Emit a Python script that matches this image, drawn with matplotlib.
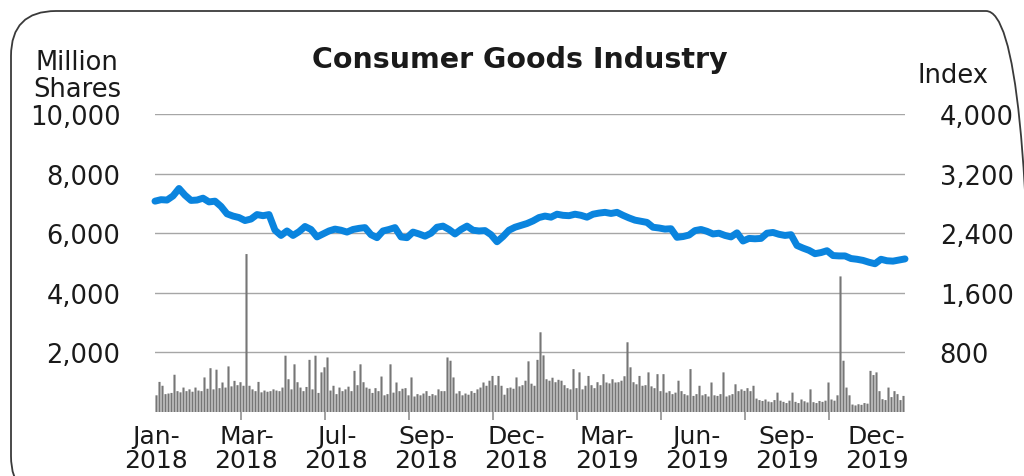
"""
Consumer Goods Industry: daily volume (bars) and index (line)
"""
import numpy as np
import matplotlib
matplotlib.use('Agg')
import matplotlib.pyplot as plt
from matplotlib.patches import FancyBboxPatch
from matplotlib.transforms import IdentityTransform

# 成交量（百万股），按交易日顺序
volume = [
    560, 1010, 880, 600, 620, 640, 1250, 700, 660, 820,
    700, 760, 680, 820, 720, 700, 1160, 780, 1470, 760,
    1420, 800, 990, 820, 1530, 860, 1045, 900, 1000, 880,
    5300, 880, 760, 700, 1010, 660, 720, 680, 700, 760,
    720, 700, 820, 1890, 1100, 760, 1600, 1000, 820, 700,
    840, 1750, 760, 1890, 640, 1330, 1500, 1830, 720, 880,
    600, 820, 700, 760, 850, 700, 1380, 900, 1600, 1000,
    820, 780, 640, 800, 700, 1190, 560, 600, 1600, 650,
    990, 700, 780, 800, 560, 1160, 520, 600, 560, 620,
    700, 540, 600, 560, 760, 700, 700, 1830, 1720, 1160,
    620, 700, 560, 620, 580, 700, 640, 760, 820, 990,
    880, 1050, 1210, 900, 1210, 880, 580, 800, 820, 780,
    1160, 860, 900, 1050, 1700, 950, 880, 1750, 2675, 1900,
    1100, 1050, 1150, 1000, 1080, 1050, 900, 800, 760, 1440,
    800, 1330, 760, 880, 1210, 900, 800, 1000, 900, 1270,
    990, 960, 1100, 990, 1000, 1050, 1200, 2340, 1500, 1000,
    930, 1210, 880, 900, 1330, 860, 800, 1270, 700, 1270,
    650, 700, 600, 650, 1050, 700, 600, 560, 1440, 540,
    600, 880, 560, 600, 520, 990, 560, 540, 600, 1330,
    520, 560, 600, 930, 700, 760, 710, 800, 700, 880,
    450, 400, 370, 420, 350, 330, 400, 650, 380, 340,
    300, 380, 650, 340, 300, 420, 360, 320, 760, 330,
    300, 370, 340, 380, 990, 420, 380, 560, 4550, 1720,
    820, 560, 250, 220, 260, 240, 300, 280, 1380, 1240,
    1330, 700, 430, 400, 820, 500, 700, 600, 400, 540,
]

# 行业指数
index = [
    2830, 2850, 2845, 2900, 3000, 2910, 2840, 2845, 2870, 2820,
    2830, 2760, 2660, 2630, 2610, 2570, 2590, 2650, 2635, 2650,
    2440, 2370, 2430, 2370, 2420, 2490, 2450, 2350, 2390, 2430,
    2455, 2440, 2415, 2450, 2465, 2475, 2380, 2340, 2430, 2450,
    2475, 2350, 2340, 2415, 2390, 2360, 2400, 2480, 2495, 2450,
    2390, 2450, 2495, 2440, 2430, 2435, 2380, 2285, 2355, 2440,
    2480, 2505, 2530, 2565, 2610, 2630, 2615, 2655, 2640, 2635,
    2655, 2640, 2615, 2655, 2670, 2680, 2665, 2680, 2640, 2605,
    2575, 2560, 2545, 2480, 2470, 2455, 2460, 2345, 2355, 2375,
    2435, 2450, 2425, 2390, 2400, 2370, 2350, 2405, 2295, 2330,
    2325, 2330, 2400, 2410, 2385, 2370, 2380, 2235, 2200, 2170,
    2125, 2140, 2165, 2100, 2095, 2095, 2060, 2050, 2035, 2010,
    1990, 2050, 2030, 2025, 2040, 2055,
]

x_labels = ['Jan-\n2018', 'Mar-\n2018', 'Jul-\n2018', 'Sep-\n2018', 'Dec-\n2018',
            'Mar-\n2019', 'Jun-\n2019', 'Sep-\n2019', 'Dec-\n2019']
left_ticks = [2000, 4000, 6000, 8000, 10000]
right_ticks = [800, 1600, 2400, 3200, 4000]

plt.rcParams['font.family'] = ['DejaVu Sans']
text_color = '#1a1a1a'
grid_color = '#a6a6a6'

fig = plt.figure(figsize=(10.24, 4.77), dpi=100)
ax = fig.add_axes([155 / 1024, 1 - 413 / 477, 750 / 1024, 298 / 477])

# 成交量柱（关闭像素对齐，细柱之间保留浅色缝隙）
n = len(volume)
ax.bar(np.arange(n), volume, width=0.7, color='#767676', linewidth=0, zorder=2, snap=False)
ax.set_xlim(-0.5, n - 0.5)
ax.set_ylim(0, 10000)
ax.set_yticks(left_ticks)
ax.set_yticklabels([f'{v:,}' for v in left_ticks])
ax.yaxis.grid(True, color=grid_color, linewidth=1.0, zorder=0)
ax.set_axisbelow(True)
for s in ax.spines.values():
    s.set_visible(False)
ax.tick_params(axis='y', length=0, pad=25, labelsize=18.5, labelcolor=text_color)

# x轴：标签与刻度线分开放置
ax.set_xticks(np.arange(len(x_labels)) * 30)
ax.set_xticklabels(x_labels, linespacing=1.0)
ax.set_xticks(np.arange(0, n, 28), minor=True)
ax.tick_params(axis='x', which='major', length=0, pad=9, labelsize=18, labelcolor=text_color)
ax.tick_params(axis='x', which='minor', length=6, width=1.3, color='#999999')

# 指数线（右轴）
ax2 = ax.twinx()
line_x = np.linspace(-0.5, n - 0.5, len(index))
ax2.plot(line_x, index, color='#0a84de', linewidth=5, solid_capstyle='round',
         solid_joinstyle='round', clip_on=False)
ax2.set_ylim(0, 4000)
ax2.set_yticks(right_ticks)
ax2.set_yticklabels([f'{v:,}' for v in right_ticks])
for s in ax2.spines.values():
    s.set_visible(False)
ax2.tick_params(axis='y', length=0, pad=25, labelsize=18.5, labelcolor=text_color)

# 标题和轴标题
fig.text(520 / 1024, 1 - 68 / 477, 'Consumer Goods Industry', ha='center', va='baseline',
         fontsize=20.5, fontweight='bold', color=text_color)
# 多行文字的 baseline 对齐最后一行
fig.text(77 / 1024, 1 - 97 / 477, 'Million\nShares', ha='center', va='baseline',
         fontsize=18.5, linespacing=1.07, color=text_color)
fig.text(953 / 1024, 1 - 83 / 477, 'Index', ha='center', va='baseline',
         fontsize=18.5, color=text_color)

# 圆角外框
frame = FancyBboxPatch((11, -25), 1020, 490, boxstyle='round,pad=0,rounding_size=45',
                       transform=IdentityTransform(), facecolor='none',
                       edgecolor='#3a3a3a', linewidth=1.3)
fig.patches.append(frame)

fig.savefig('out.png', dpi=100)
